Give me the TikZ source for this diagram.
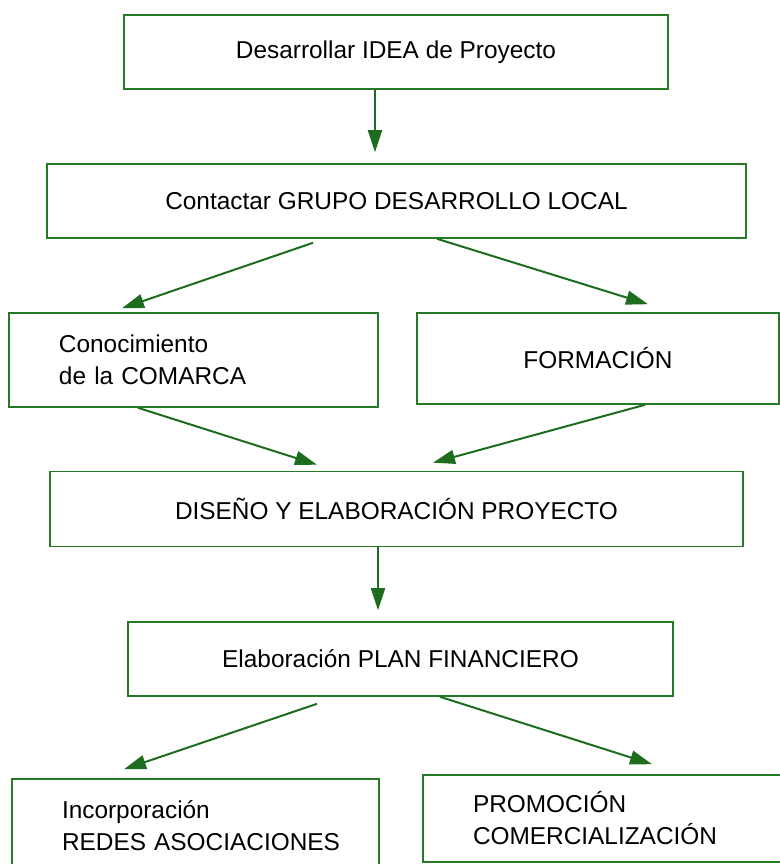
\documentclass[tikz,border=0pt]{standalone}
\usepackage{fontspec}
\setmainfont{Liberation Sans}
\usetikzlibrary{arrows.meta}
\definecolor{verde}{RGB}{38,122,38}
\definecolor{verdeosc}{RGB}{30,108,30}
\hyphenpenalty=10000
\exhyphenpenalty=10000

\begin{document}
\begin{tikzpicture}[x=0.5pt, y=-0.5pt,
    box/.style={draw=verde, line width=0.8pt, inner sep=0pt, font=\fontsize{12.2}{16}\selectfont},
    lbox/.style={box, align=left, inner xsep=25pt},
    arr/.style={draw=verdeosc, line width=1pt, -{Triangle[length=11pt,width=7pt]}}]
      \useasboundingbox (0,0) rectangle (780,864);
      \clip (0,0) rectangle (780,864);

      \draw (396,52) node[box, minimum width=272pt, minimum height=37pt] (I) {Desarrollar IDEA de Proyecto};
      \draw (396.5,201) node[box, minimum width=349.5pt, minimum height=37pt] (G) {Contactar GRUPO DESARROLLO LOCAL};

      \draw (193.5,360) node[lbox, text width=134.5pt, minimum height=47pt] (C) {\mbox{Conocimiento}\\\mbox{de la COMARCA}};
      \draw (598,358.5) node[box, minimum width=181pt, minimum height=45.5pt] (F) {FORMACIÓN};

      \draw (396.5,509) node[box, minimum width=346.5pt, minimum height=37.5pt] (D) {DISEÑO Y ELABORACIÓN PROYECTO};
      \draw (400.5,659) node[box, minimum width=272.5pt, minimum height=37pt] (PF) {Elaboración PLAN FINANCIERO};

      \draw (195.5,826) node[lbox, text width=133.5pt, minimum height=47pt] (R) {\mbox{Incorporación}\\\mbox{REDES ASOCIACIONES}};
      \draw (604,818.5) node[lbox, text width=131pt, minimum height=43.5pt] (PC) {\mbox{PROMOCIÓN}\\\mbox{COMERCIALIZACIÓN}};

      \draw[arr] ([xshift=-10.5pt]I.south) -- ([xshift=-10.75pt, yshift=5.5pt]G.north);

      \draw[arr] ([xshift=-41.75pt, yshift=-2pt]G.south) -- ([xshift=-35.75pt, yshift=2pt]C.north);
      \draw[arr] ([xshift=20.25pt]G.south) -- ([xshift=25pt, yshift=4pt]F.north);

      \draw[arr] ([xshift=-27.75pt]C.south) -- ([xshift=-39.75pt, yshift=3pt]D.north);
      \draw[arr] ([xshift=23.5pt]F.south) -- ([xshift=18.25pt, yshift=4pt]D.north);

      \draw[arr] ([xshift=-9.25pt]D.south) -- ([xshift=-11.25pt, yshift=5.5pt]PF.north);

      \draw[arr] ([xshift=-41.75pt, yshift=-3.5pt]PF.south) -- ([xshift=-35.75pt, yshift=4.5pt]R.north);
      \draw[arr] ([xshift=19.75pt]PF.south) -- ([xshift=24pt, yshift=5pt]PC.north);
\end{tikzpicture}
\end{document}
